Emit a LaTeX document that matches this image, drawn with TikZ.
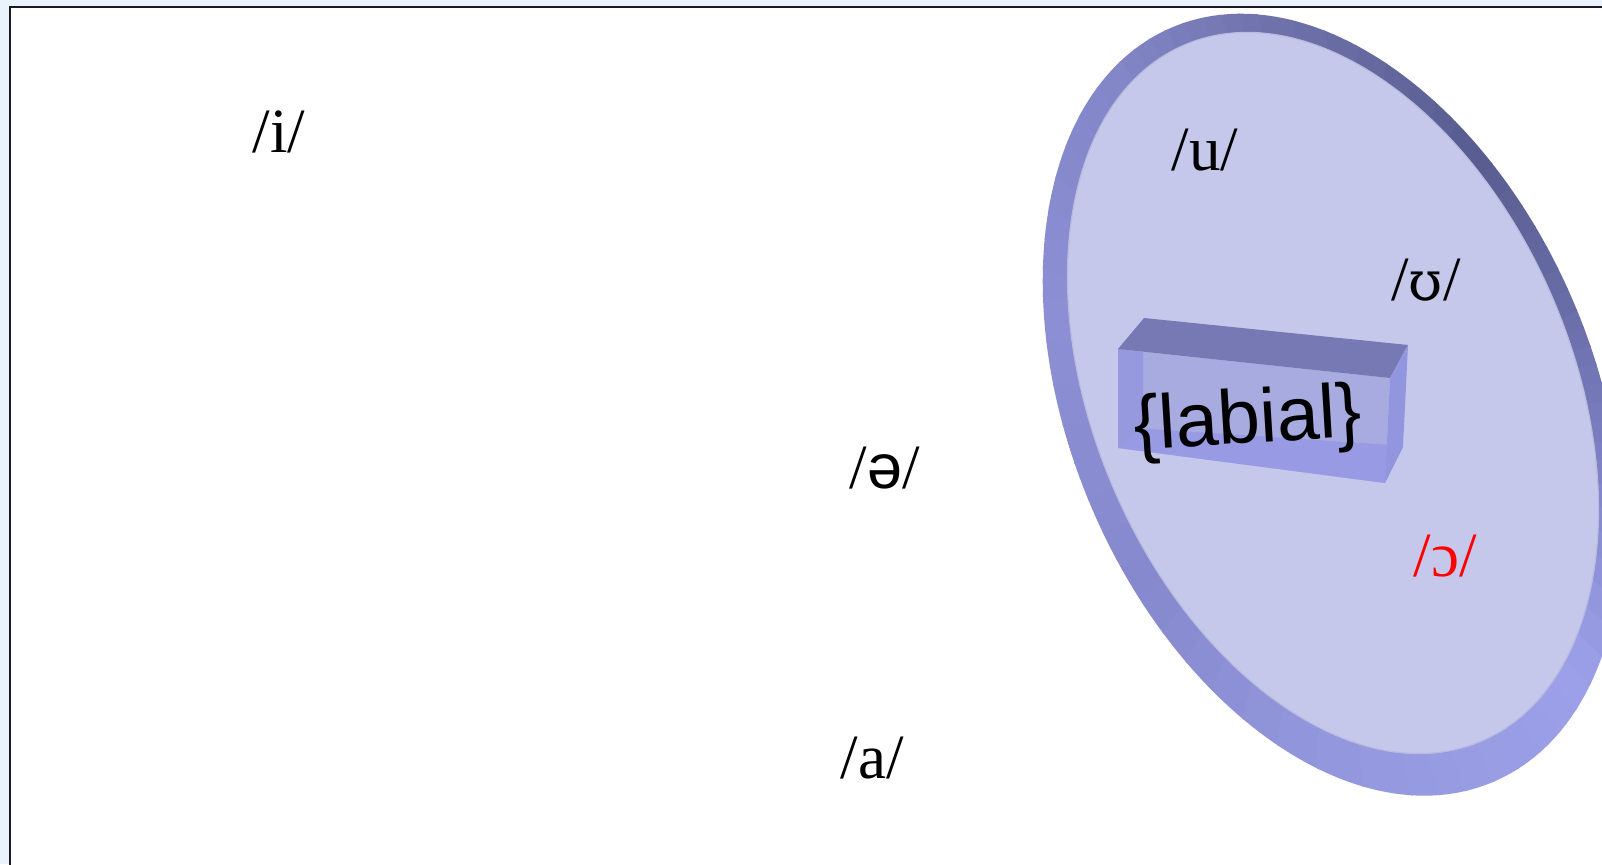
\documentclass[tikz,border=0pt]{standalone}
\usepackage{fontspec}
\setmainfont{Liberation Serif}
\newfontfamily\sansf{Liberation Sans}
\newfontfamily\ipaserif{DejaVu Serif}
\definecolor{bgblue}{RGB}{234,242,252}
\definecolor{framec}{RGB}{25,25,30}
\definecolor{facec}{RGB}{197,200,234}
\definecolor{faceedge}{RGB}{184,186,222}
% rim colours by angle around the disc
\definecolor{rcA}{RGB}{106,110,168}% 20
\definecolor{rcB}{RGB}{88,92,143}% 61
\definecolor{rcC}{RGB}{112,115,172}% 101
\definecolor{rcD}{RGB}{130,133,198}% 122
\definecolor{rcE}{RGB}{140,143,212}% 160
\definecolor{rcF}{RGB}{134,137,205}% 227
\definecolor{rcG}{RGB}{150,154,225}% 281
\definecolor{rcH}{RGB}{156,160,232}% 312
\definecolor{rcI}{RGB}{125,128,195}% 347
\definecolor{boxtop}{RGB}{118,121,179}
\definecolor{boxfront}{RGB}{168,171,223}
\definecolor{boxfloor}{RGB}{152,155,228}
\definecolor{boxside}{RGB}{146,150,222}
\definecolor{boxleft}{RGB}{150,153,222}
\definecolor{ipared}{RGB}{255,0,0}
\begin{document}
\begin{tikzpicture}[x=1bp,y=1bp,
  vowel/.style={inner sep=0pt, anchor=base, font=\fontsize{63bp}{70bp}\selectfont},
  featlabel/.style={inner sep=0pt, anchor=base, font=\sansf\fontsize{76bp}{82bp}\selectfont}]
\useasboundingbox (0,0) rectangle (1602,-864);
\clip (0,0) rectangle (1602,-864);
\fill[bgblue] (0,0) rectangle (1602,-864);
\draw[line width=2bp, draw=framec, fill=white] (10,-6.5) rectangle (1640,-900);
\coordinate (C) at (1333,-400);
% disc rim (angular colour bands)
\begin{scope}
\clip (1332.5,-404.7) circle [x radius=410bp, y radius=262bp, rotate=-66.9];
\foreach \aa/\ab/\ca/\cb in {-13/20/rcI/rcA, 20/61/rcA/rcB, 61/101/rcB/rcC,
    101/122/rcC/rcD, 122/160/rcD/rcE, 160/227/rcE/rcF, 227/281/rcF/rcG,
    281/312/rcG/rcH, 312/347/rcH/rcI}{
  \foreach \k in {0,...,7}{
    \pgfmathsetmacro\pa{\aa+(\ab-\aa)*\k/8}
    \pgfmathsetmacro\pb{\aa+(\ab-\aa)*(\k+1)/8+0.4}
    \pgfmathsetmacro\pct{100*(\k+0.5)/8}
    \colorlet{tmpc}{\cb!\pct!\ca}
    \fill[tmpc] (C) -- +(\pa:900) -- +(\pb:900) -- cycle;
  }
}
\end{scope}
% disc face
\path[fill=facec, draw=faceedge, line width=1.2bp]
  (1333,-393) circle [x radius=378.4bp, y radius=239.3bp, rotate=-66.9];
% box
\fill[boxfront] (1118,-349) -- (1390,-378) -- (1385,-483) -- (1118,-448) -- cycle;
\fill[boxfloor] (1118,-448) -- (1135,-428) -- (1393,-445) -- (1385,-483) -- cycle;
\fill[boxleft] (1118,-349) -- (1143,-352) -- (1143,-426) -- (1118,-448) -- cycle;
\fill[boxtop] (1144,-318) -- (1408,-345) -- (1390,-378) -- (1118,-349) -- cycle;
\fill[boxside] (1390,-378) -- (1408,-345) -- (1403,-447) -- (1385,-483) -- cycle;
% labels
\node[featlabel, rotate=3.5] (labial) at (1249,-443) {\{labial\}};
\node[vowel] (i) at (279,-152) {/i/};
\node[vowel] (u) at (1205,-170) {/u/};
\node[vowel] (uu) at (1426,-300) {/{\ipaserif\fontsize{55bp}{60bp}\selectfont ʊ}/};
\node[vowel] (schwa) at (885,-488) {/{\sansf ə}/};
\node[vowel, text=ipared] (oo) at (1445,-576) {/ɔ/};
\node[vowel] (a) at (872,-778) {/a/};
\end{tikzpicture}
\end{document}
